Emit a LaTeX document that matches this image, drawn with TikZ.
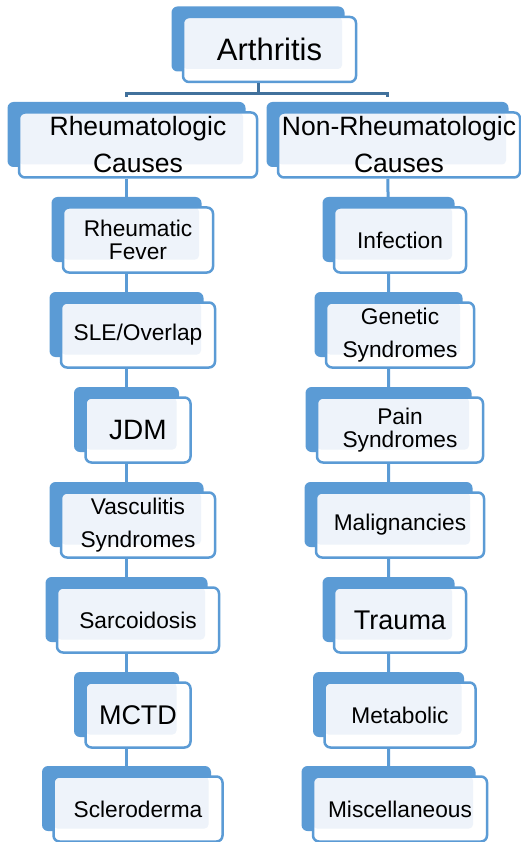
\documentclass[tikz,border=0pt]{standalone}
\usepackage{fontspec}
\setmainfont{Liberation Sans}
\usetikzlibrary{shadows}
\definecolor{boxblue}{RGB}{91,155,213}
\definecolor{boxtint}{RGB}{238,243,250}
\definecolor{trunkblue}{RGB}{65,113,156}
\tikzset{
    cause/.style={draw=boxblue, line width=2.5pt, fill=white, rounded corners=6pt,
        inner sep=0pt, align=center, minimum height=65pt,
        general shadow={fill=boxblue, shadow xshift=-11.5pt, shadow yshift=10.5pt}, % the solid block behind
        path picture={\fill[boxtint, rounded corners=4pt] (path picture bounding box.north west)
            rectangle ([xshift=-14pt,yshift=13pt]path picture bounding box.south east);}},
    leaf/.style={font=\fontsize{22.7}{23}\selectfont},
    bigleaf/.style={font=\fontsize{27}{30}\selectfont},
    link/.style={draw=boxblue, line width=3pt, transform canvas={xshift=-11.5pt}}, % lines run under the blocks
    trunk/.style={draw=trunkblue, line width=3pt, transform canvas={xshift=-11.5pt}},
}
\begin{document}
\begin{tikzpicture}[x=1pt, y=-1pt]
            \useasboundingbox (0,0) rectangle (521,842);
            \node[cause, minimum width=173pt, font=\fontsize{31}{37}\selectfont] (arth) at (269.5,49.5) {Arthritis};
            \node[cause, minimum width=238pt, font=\fontsize{26.5}{37}\selectfont] (rheum) at (138,145) {Rheumatologic\\Causes};
            \node[cause, minimum width=242pt, font=\fontsize{26.5}{37}\selectfont] (nonrheum) at (399,145) {Non-Rheumatologic\\Causes};
            % left column
            \node[cause, leaf, minimum width=150pt] (rf) at (138,240) {Rheumatic\\Fever};
            \node[cause, leaf, minimum width=154pt] (sle) at (138,335) {SLE/Overlap};
            \node[cause, bigleaf, minimum width=105pt, font=\fontsize{28}{30}\selectfont] (jdm) at (138,430) {JDM};
            \node[cause, leaf, minimum width=154pt, font=\fontsize{22.7}{33}\selectfont] (vasc) at (138,525) {Vasculitis\\Syndromes};
            \node[cause, leaf, minimum width=162pt] (sarc) at (138,620) {Sarcoidosis};
            \node[cause, bigleaf, minimum width=105pt] (mctd) at (138,715) {MCTD};
            \node[cause, leaf, minimum width=169pt] (scler) at (138,809) {Scleroderma};
            % right column
            \node[cause, leaf, minimum width=132pt] (inf) at (400,240) {Infection};
            \node[cause, leaf, minimum width=148pt, font=\fontsize{22.7}{33}\selectfont] (gen) at (400,335) {Genetic\\Syndromes};
            \node[cause, leaf, minimum width=166pt] (pain) at (400,430) {Pain\\Syndromes};
            \node[cause, leaf, minimum width=168pt] (malig) at (400,525) {Malignancies};
            \node[cause, bigleaf, minimum width=132pt] (trauma) at (400,620) {Trauma};
            \node[cause, leaf, minimum width=151pt] (metab) at (400,715) {Metabolic};
            \node[cause, leaf, minimum width=174pt] (misc) at (400,809) {Miscellaneous};
            \draw[trunk] (arth.south) -- ++(0,10);
            \draw[trunk, shorten <=14pt, shorten >=14pt] (rheum.north) |- ([yshift=-10pt]arth.south) -| (nonrheum.north);
            \draw[link] (rheum) -- (rf) (rf) -- (sle) (sle) -- (jdm) (jdm) -- (vasc)
            (vasc) -- (sarc) (sarc) -- (mctd) (mctd) -- (scler);
            \draw[link] (nonrheum) -- (inf) (inf) -- (gen) (gen) -- (pain) (pain) -- (malig)
            (malig) -- (trauma) (trauma) -- (metab) (metab) -- (misc);
        \end{tikzpicture}
\end{document}
